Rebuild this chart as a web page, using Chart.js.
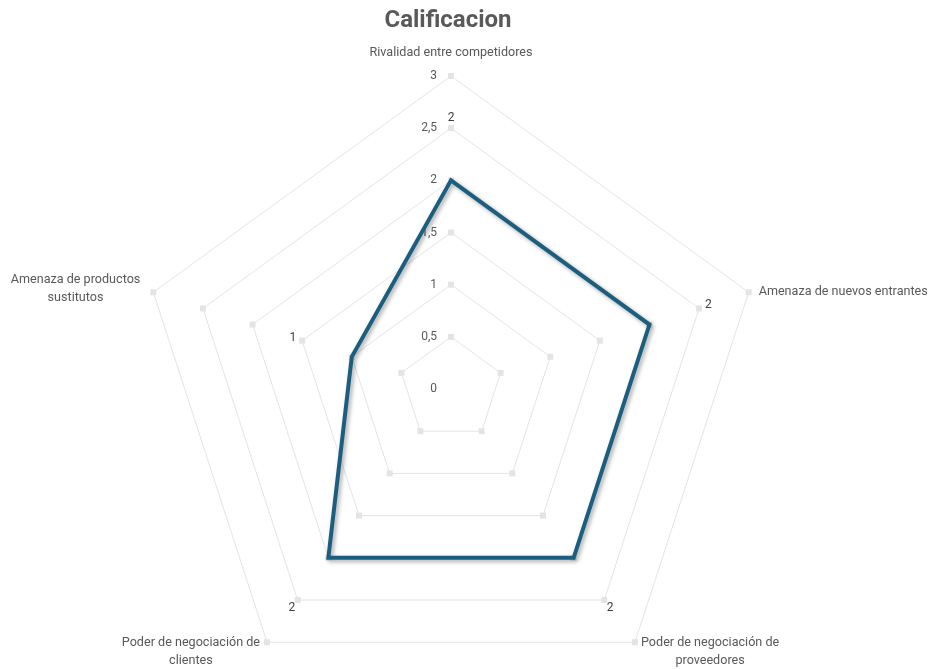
<!DOCTYPE html>
<html>
<head>
<meta charset="utf-8">
<script src="https://cdn.jsdelivr.net/npm/chart.js@4.4.1/dist/chart.umd.min.js"></script>
<style>
  html, body { margin: 0; padding: 0; background: #fff; overflow: hidden; }
  #wrap { width: 932px; height: 669px; }
</style>
</head>
<body>
<div id="wrap"><canvas id="radarChart"></canvas></div>
<script>
const categories = [
  ['Rivalidad entre competidores'],
  ['Amenaza de nuevos entrantes'],
  ['Poder de negociación de', 'proveedores'],
  ['Poder de negociación de', 'clientes'],
  ['Amenaza de productos', 'sustitutos']
];
const calificacion = [2, 2, 2, 2, 1];
const tickValues = [0, 0.5, 1, 1.5, 2, 2.5, 3];

const textColor = '#595959';
const gridColor = '#e4e4e4';
const fontFamily = 'Roboto, "Open Sans", sans-serif';

// custom drawing: vertex markers, tick labels, data labels, category labels
const radarExtras = {
  id: 'radarExtras',
  beforeDatasetsDraw(chart) {
    const ctx = chart.ctx;
    const s = chart.scales.r;
    ctx.save();
    ctx.fillStyle = gridColor;
    tickValues.forEach(v => {
      if (v === 0) return;
      for (let i = 0; i < categories.length; i++) {
        const p = s.getPointPositionForValue(i, v);
        ctx.fillRect(p.x - 3, p.y - 3, 6, 6);
      }
    });
    ctx.fillStyle = textColor;
    ctx.font = '12px ' + fontFamily;
    ctx.textAlign = 'right';
    ctx.textBaseline = 'middle';
    tickValues.forEach(v => {
      const y = s.yCenter - s.getDistanceFromCenterForValue(v);
      ctx.fillText(String(v).replace('.', ','), s.xCenter - 14, y);
    });
    ctx.restore();
  },
  afterDatasetsDraw(chart) {
    const ctx = chart.ctx;
    const s = chart.scales.r;
    ctx.save();
    ctx.font = '12px ' + fontFamily;
    ctx.fillStyle = '#404040';
    ctx.textAlign = 'center';
    ctx.textBaseline = 'middle';
    calificacion.forEach((v, i) => {
      const p = s.getPointPosition(i, s.getDistanceFromCenterForValue(v) + 62);
      ctx.fillText(String(v), p.x, p.y);
    });

    ctx.font = '12.6px ' + fontFamily;
    ctx.fillStyle = textColor;
    const lh = 18;
    categories.forEach((lines, i) => {
      const v = s.getPointPosition(i, s.drawingArea);
      const w = Math.max(...lines.map(l => ctx.measureText(l).width));
      let left, y0;
      if (i === 0) { left = v.x - w / 2; y0 = v.y - 23 - (lines.length - 1) * lh; }
      else if (i === 1) { left = v.x + 10; y0 = v.y; }
      else if (i === 2) { left = v.x + 6; y0 = v.y + 1; }
      else if (i === 3) { left = v.x - 7 - w; y0 = v.y + 1; }
      else { left = v.x - 13 - w; y0 = v.y - 12; }
      lines.forEach((l, k) => ctx.fillText(l, left + w / 2, y0 + k * lh));
    });
    ctx.restore();
  },
  beforeDatasetDraw(chart) {
    const ctx = chart.ctx;
    ctx.save();
    ctx.shadowColor = 'rgba(0,0,0,0.35)';
    ctx.shadowBlur = 4;
    ctx.shadowOffsetX = 2;
    ctx.shadowOffsetY = 2;
  },
  afterDatasetDraw(chart) {
    chart.ctx.restore();
  }
};

new Chart(document.getElementById('radarChart'), {
  type: 'radar',
  data: {
    labels: categories,
    datasets: [{
      label: 'Calificacion',
      data: calificacion,
      borderColor: '#1b5e80',
      borderWidth: 4,
      borderJoinStyle: 'miter',
      backgroundColor: 'transparent',
      fill: false,
      pointRadius: 0,
      pointHoverRadius: 0
    }]
  },
  options: {
    responsive: true,
    maintainAspectRatio: false,
    animation: false,
    layout: { padding: { right: 36 } },
    plugins: {
      legend: { display: false },
      tooltip: { enabled: false },
      title: {
        display: true,
        text: 'Calificacion',
        color: textColor,
        font: { family: fontFamily, size: 24, weight: 'bold', lineHeight: 1.2 },
        padding: { top: 7, bottom: 8 }
      }
    },
    scales: {
      r: {
        min: 0,
        max: 3,
        ticks: { stepSize: 0.5, display: false },
        grid: { color: gridColor, lineWidth: 1 },
        angleLines: { display: false },
        pointLabels: { display: false },
        afterFit: s => {
          s.xCenter = 451;
          s.yCenter = 389;
          s.drawingArea = 313;
        }
      }
    }
  },
  plugins: [radarExtras]
});
</script>
</body>
</html>
